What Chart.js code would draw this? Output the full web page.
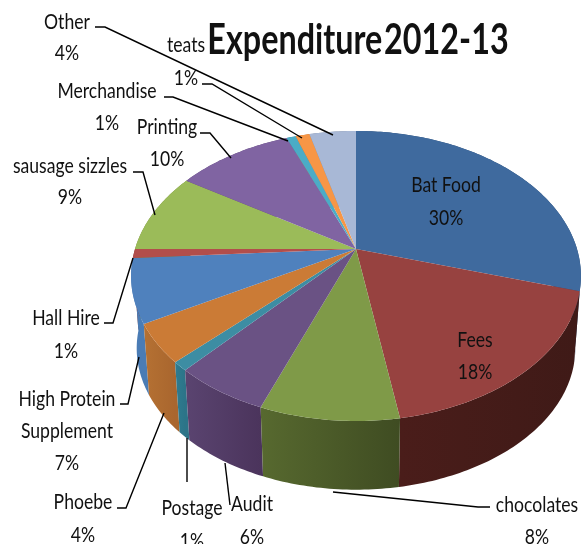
<!DOCTYPE html>
<html>
<head>
<meta charset="utf-8">
<style>
  html, body { margin: 0; padding: 0; background: #fff; }
  canvas { display: block; }
</style>
<script src="https://cdn.jsdelivr.net/npm/chart.js@4/dist/chart.umd.min.js"></script>
</head>
<body>
<canvas id="pie" width="587" height="544"></canvas>
<script>
const titleText = 'Expenditure 2012-13';
const categories = ['Bat Food', 'Fees', 'chocolates', 'Audit', 'Postage', 'Phoebe',
  'High Protein Supplement', 'Hall Hire', 'sausage sizzles', 'Printing', 'Merchandise', 'teats', 'Other'];
const values = [29.6, 17.8, 8.4, 5.8, 1.0, 4.3, 7.1, 1.0, 9.0, 10.0, 0.8, 1.2, 4.0];
const topColors = ['#3F6A9E', '#974240', '#7F9A48', '#6A5284', '#3D8DA3', '#CB7B36', '#4F81BD',
  '#B24E4B', '#9BBB59', '#8064A2', '#4BACC6', '#F79646', '#A8B8D6'];
const wallLeft = ['#2F4F76', '#4A1D1A', '#57692F', '#5A4470', '#2F7C90', '#B57133', '#4A7CB5',
  '#843A38', '#73893F', '#5F4A78', '#378094', '#B86F33', '#7C889E'];
const wallRight = ['#2F4F76', '#3F1A17', '#3F4C22', '#4B345C', '#2C7488', '#A9662E', '#4A7CB5',
  '#843A38', '#73893F', '#5F4A78', '#378094', '#B86F33', '#7C889E'];

// where the text goes: [x centre, y of first line, line spacing] for each category
const labelSpots = [[446, 185, 33], [475, 340, 32], [537, 505, 32], [252, 504, 33], [192, 508, 33],
  [83, 502, 33], [67, 399, 32], [66, 318, 33], [70, 166, 31], [167, 127, 32], [107, 91, 32],
  [186, 45, 33], [67, 22, 31]];
const leaders = [null, null,
  [[490, 507], [478, 507], [333, 492]],
  [[230, 505], [225, 463]],
  [[187, 482], [187, 438]],
  [[117, 508], [126, 508], [164, 413]],
  [[120, 404], [128, 404], [139, 357]],
  [[104, 323], [113, 323], [133, 258]],
  [[133, 172], [143, 172], [155, 215]],
  [[200, 133], [210, 133], [231, 158]],
  [[164, 97], [173, 97], [288, 141]],
  [[202, 84], [212, 84], [302, 138]],
  [[95, 27], [105, 27], [333, 135]]];

// perspective of the tilted disc
const cx = 356, cy = 249, rx = 221, ry = 140, persp = 0.186;
const wallDrop = 73, wallShrink = 0.975;

function rimPoint(theta, drop, scale) {
  const u = Math.sin(theta), v = -Math.cos(theta), d = 1 - persp * v;
  return [cx + scale * rx * u / d, cy + drop + scale * ry * v / d];
}

function tracePart(ctx, a0, a1, drop, scale, first) {
  const steps = Math.max(2, Math.ceil(Math.abs(a1 - a0) * 60));
  for (let i = 0; i <= steps; i++) {
    const p = rimPoint(a0 + (a1 - a0) * i / steps, drop, scale);
    if (first && i === 0) ctx.moveTo(p[0], p[1]); else ctx.lineTo(p[0], p[1]);
  }
}

function drawText(ctx, str, x, y, size, weight, squeeze, wordGap) {
  ctx.save();
  ctx.translate(x, y);
  ctx.scale(squeeze, 1);
  ctx.font = weight + ' ' + size + 'px Lato';
  ctx.wordSpacing = (wordGap || 0) + 'px';
  ctx.textAlign = 'center';
  ctx.textBaseline = 'middle';
  ctx.fillStyle = '#111';
  ctx.fillText(str, 0, 0);
  ctx.restore();
}

const tiltedPie = {
  id: 'tiltedPie',
  beforeDatasetsDraw(chart) {
    const ctx = chart.ctx;
    const arcs = chart.getDatasetMeta(0).data.map((arc, i) => ({
      i, a0: arc.startAngle + Math.PI / 2, a1: arc.endAngle + Math.PI / 2, color: arc.options.backgroundColor
    }));

    // side walls, furthest first
    const mid = a => Math.abs((a.a0 + a.a1) / 2 - Math.PI);
    arcs.slice().sort((p, q) => mid(q) - mid(p)).forEach(a => {
      const left = rimPoint(a.a1, 0, 1)[0], right = rimPoint(a.a0, 0, 1)[0];
      const g = ctx.createLinearGradient(Math.min(left, right), 0, Math.max(left, right), 0);
      g.addColorStop(0, wallLeft[a.i]);
      g.addColorStop(1, wallRight[a.i]);
      ctx.beginPath();
      tracePart(ctx, a.a0, a.a1, 0, 1, true);
      tracePart(ctx, a.a1, a.a0, wallDrop, wallShrink, false);
      ctx.closePath();
      ctx.fillStyle = g;
      ctx.fill();
    });

    // top face
    arcs.forEach(a => {
      ctx.beginPath();
      ctx.moveTo(cx, cy);
      tracePart(ctx, a.a0, a.a1, 0, 1, false);
      ctx.closePath();
      ctx.fillStyle = a.color;
      ctx.fill();
    });
    return false;
  },
  afterDraw(chart) {
    const ctx = chart.ctx;
    const total = values.reduce((s, v) => s + v, 0);

    ctx.strokeStyle = '#000';
    ctx.lineWidth = 1.4;
    leaders.forEach(line => {
      if (!line) return;
      ctx.beginPath();
      line.forEach((p, k) => k ? ctx.lineTo(p[0], p[1]) : ctx.moveTo(p[0], p[1]));
      ctx.stroke();
    });

    categories.forEach((name, i) => {
      const [x, y, gap] = labelSpots[i];
      const lines = name.length > 20 ? name.split(/ (?=Supplement)/) : [name];
      lines.push(Math.round(values[i] / total * 100) + '%');
      lines.forEach((s, k) => drawText(ctx, s, x, y + k * gap, 22, 'normal', 0.8));
    });

    drawText(ctx, titleText, 358, 40, 42, 'bold', 0.77, -8);
  }
};

new Chart(document.getElementById('pie').getContext('2d'), {
  type: 'pie',
  data: {
    labels: categories,
    datasets: [{ data: values, backgroundColor: topColors, borderWidth: 0 }]
  },
  options: {
    responsive: false,
    animation: false,
    plugins: { legend: { display: false }, tooltip: { enabled: false } }
  },
  plugins: [tiltedPie]
});
</script>
</body>
</html>
